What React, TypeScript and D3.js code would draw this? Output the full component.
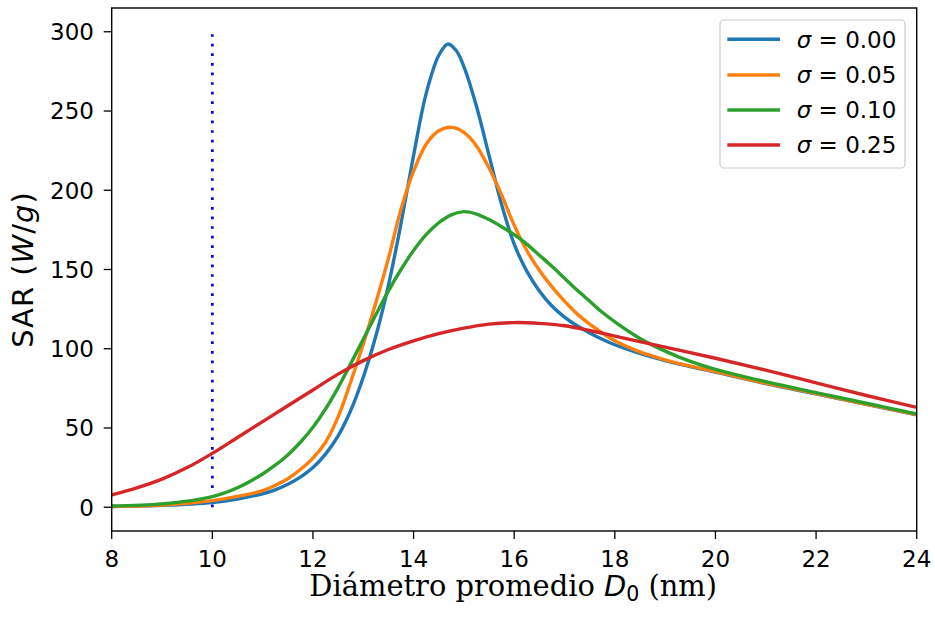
import React from "react";
import * as d3 from "d3";

const W = 935;
const H = 617;

const sigmaLabels = ["0.00", "0.05", "0.10", "0.25"];
const colors = ["#1f77b4", "#ff7f0e", "#2ca02c", "#d62728"];

const xTicks = [8, 10, 12, 14, 16, 18, 20, 22, 24];
const yTicks = [0, 50, 100, 150, 200, 250, 300];

// sigma = 0.00
const x0 = [8, 9, 10, 10.5, 11, 11.25, 11.5, 11.75, 12, 12.25, 12.5, 12.75, 13, 13.25, 13.5, 13.75, 14, 14.25, 14.5, 14.68, 14.85, 15, 15.25, 15.5, 15.75, 16, 16.25, 16.5, 16.75, 17, 17.25, 17.5, 17.75, 18, 18.5, 19, 19.5, 20, 21, 22, 23, 24];
const y0 = [0.5, 1.2, 3, 5.2, 8.5, 11, 14.5, 19, 25, 33.5, 45, 61, 82, 108, 140, 179, 222, 261, 285, 292.3, 288, 278, 253, 222, 191, 166, 149, 136.5, 127, 120, 114.5, 110, 106, 102.5, 97, 92.5, 88.7, 85.3, 78, 71.5, 65, 58.3];
// sigma = 0.05
const x1 = [8, 9, 10, 10.5, 11, 11.25, 11.5, 11.75, 12, 12.25, 12.5, 12.75, 13, 13.25, 13.5, 13.75, 14, 14.25, 14.5, 14.77, 15, 15.25, 15.5, 15.75, 16, 16.25, 16.5, 16.75, 17, 17.25, 17.5, 17.75, 18, 18.5, 19, 19.5, 20, 21, 22, 23, 24];
const y1 = [0.5, 1.3, 4.2, 6.8, 10.5, 13.8, 18, 23.8, 31, 41, 57, 79, 103, 129, 157, 188, 212, 229, 237.5, 239.7, 236.5, 228, 214, 197, 178, 162, 149.5, 139, 130, 122, 115.5, 110, 105, 98, 93, 89, 85.6, 78.3, 71.7, 65, 58.5];
// sigma = 0.10
const x2 = [8, 9, 10, 10.5, 11, 11.25, 11.5, 11.75, 12, 12.25, 12.5, 12.75, 13, 13.25, 13.5, 13.75, 14, 14.25, 14.5, 14.75, 15, 15.25, 15.5, 15.75, 16, 16.25, 16.5, 16.75, 17, 17.25, 17.5, 17.75, 18, 18.5, 19, 19.5, 20, 21, 22, 23, 24];
const y2 = [0.8, 2.1, 6.7, 12.3, 21, 26.5, 33, 41, 50.5, 62, 75.5, 90.5, 106, 121.5, 136.5, 150, 162, 172, 179.5, 184.5, 186.5, 185, 181.5, 177, 172, 166, 159, 152, 144.5, 137, 130, 123, 117, 106.5, 98.5, 92, 87, 79.2, 72.3, 65.6, 58.9];
// sigma = 0.25
const x3 = [8, 8.5, 9, 9.5, 10, 10.5, 11, 11.5, 12, 12.5, 13, 13.5, 14, 14.5, 15, 15.5, 16, 16.5, 17, 17.5, 18, 19, 20, 21, 22, 23, 24];
const y3 = [7.8, 12.2, 17.7, 25, 34, 44, 54, 64, 74, 84, 92.5, 99.5, 105, 109.5, 113, 115.5, 116.5, 116, 114.5, 111.5, 108, 101, 94, 86.5, 78.5, 70.5, 63];

const seriesX = [x0, x1, x2, x3];
const seriesY = [y0, y1, y2, y3];

const markerX = 10;
const markerY = [0, 300];

export default function App() {
  const left = 111.7;
  const right = 916.7;
  const top = 8;
  const bottom = 531;

  const x = d3.scaleLinear().domain([8, 24]).range([left, right]);
  const y = d3.scaleLinear().domain([-15, 315]).range([bottom, top]);

  const line = d3
    .line<[number, number]>()
    .x((d) => x(d[0]))
    .y((d) => y(d[1]))
    .curve(d3.curveCatmullRom.alpha(0.5));

  const sans = "'DejaVu Sans', sans-serif";
  const serif = "'DejaVu Serif', serif";

  const legX = 720;
  const legY = 20;
  const legW = 185;
  const legH = 148;
  const rowY = [39.3, 75, 110, 145];

  return (
    <svg width={W} height={H} style={{ position: "absolute", left: 0, top: 0 }} xmlns="http://www.w3.org/2000/svg">
      <rect x={0} y={0} width={W} height={H} fill="#ffffff" />
      <defs>
        <clipPath id="plotclip">
          <rect x={left} y={top} width={right - left} height={bottom - top} />
        </clipPath>
      </defs>

      <g clipPath="url(#plotclip)">
        <line
          x1={x(markerX)}
          x2={x(markerX)}
          y1={y(markerY[0])}
          y2={y(markerY[1])}
          stroke="#0000ff"
          strokeWidth={2.7}
          strokeDasharray="2.7 6.9"
        />
        {seriesX.map((xs, i) => (
          <path
            key={i}
            d={line(xs.map((v, j) => [v, seriesY[i][j]] as [number, number])) || ""}
            fill="none"
            stroke={colors[i]}
            strokeWidth={3.4}
            strokeLinejoin="round"
            strokeLinecap="butt"
          />
        ))}
      </g>

      {/* frame */}
      <rect x={left} y={top} width={right - left} height={bottom - top} fill="none" stroke="#000" strokeWidth={1.4} />

      {/* x ticks */}
      {xTicks.map((t) => (
        <g key={"x" + t}>
          <line x1={x(t)} x2={x(t)} y1={bottom} y2={bottom + 8} stroke="#000" strokeWidth={1.3} />
          <text x={x(t)} y={566.5} textAnchor="middle" fontFamily={sans} fontSize={23} fill="#000">
            {t}
          </text>
        </g>
      ))}

      {/* y ticks */}
      {yTicks.map((t) => (
        <g key={"y" + t}>
          <line x1={left - 8} x2={left} y1={y(t)} y2={y(t)} stroke="#000" strokeWidth={1.3} />
          <text x={94} y={y(t)} dy="0.36em" textAnchor="end" fontFamily={sans} fontSize={23} fill="#000">
            {t}
          </text>
        </g>
      ))}

      {/* x label */}
      <text x={(left + right) / 2 - 1} y={596} textAnchor="middle" fontFamily={serif} fontSize={28.9} fill="#000">
        <tspan>Diámetro promedio </tspan>
        <tspan fontFamily={sans} fontStyle="italic">D</tspan>
        <tspan fontFamily={sans} fontSize={20.5} dy={5}>0</tspan>
        <tspan dy={-5}> (nm)</tspan>
      </text>

      {/* y label */}
      <text
        transform={`translate(33.3, ${(top + bottom) / 2}) rotate(-90)`}
        textAnchor="middle"
        fontFamily={sans}
        fontSize={29}
        letterSpacing={1}
        fill="#000"
      >
        <tspan>SAR (</tspan>
        <tspan fontStyle="italic">W</tspan>
        <tspan>/</tspan>
        <tspan fontStyle="italic">g</tspan>
        <tspan>)</tspan>
      </text>

      {/* legend */}
      <rect x={legX} y={legY} width={legW} height={legH} rx={4} ry={4} fill="#ffffff" fillOpacity={0.8} stroke="#cccccc" strokeWidth={1.2} />
      {sigmaLabels.map((s, i) => (
        <g key={"l" + i}>
          <line x1={727.3} x2={780} y1={rowY[i]} y2={rowY[i]} stroke={colors[i]} strokeWidth={3.4} />
          <text x={796.7} y={rowY[i]} dy="0.36em" fontFamily={sans} fontSize={23} fill="#000">
            <tspan fontStyle="italic">σ</tspan>
            <tspan> = {s}</tspan>
          </text>
        </g>
      ))}
    </svg>
  );
}
